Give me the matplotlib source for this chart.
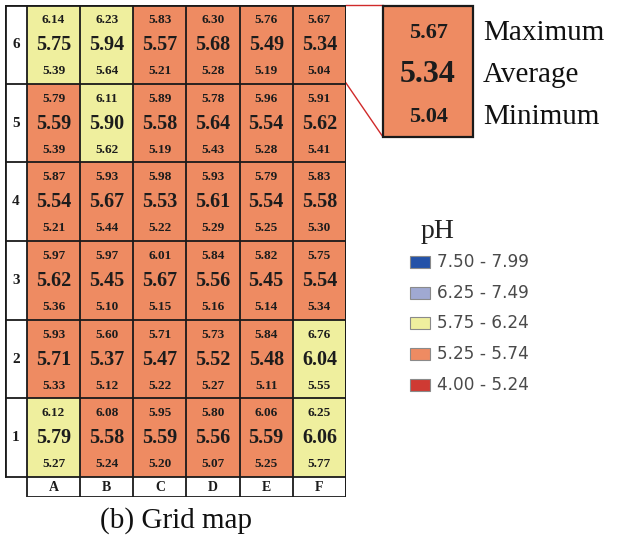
import numpy as np
import matplotlib
matplotlib.use("Agg")
import matplotlib.pyplot as plt
from matplotlib.colors import ListedColormap, BoundaryNorm
from matplotlib.patches import Rectangle

# grid values, rows listed from row 1 (bottom) to row 6 (top), columns A..F
cols = ["A", "B", "C", "D", "E", "F"]
rows = ["1", "2", "3", "4", "5", "6"]
ph_max = [
    [6.12, 6.08, 5.95, 5.80, 6.06, 6.25],
    [5.93, 5.60, 5.71, 5.73, 5.84, 6.76],
    [5.97, 5.97, 6.01, 5.84, 5.82, 5.75],
    [5.87, 5.93, 5.98, 5.93, 5.79, 5.83],
    [5.79, 6.11, 5.89, 5.78, 5.96, 5.91],
    [6.14, 6.23, 5.83, 6.30, 5.76, 5.67],
]
ph_avg = [
    [5.79, 5.58, 5.59, 5.56, 5.59, 6.06],
    [5.71, 5.37, 5.47, 5.52, 5.48, 6.04],
    [5.62, 5.45, 5.67, 5.56, 5.45, 5.54],
    [5.54, 5.67, 5.53, 5.61, 5.54, 5.58],
    [5.59, 5.90, 5.58, 5.64, 5.54, 5.62],
    [5.75, 5.94, 5.57, 5.68, 5.49, 5.34],
]
ph_min = [
    [5.27, 5.24, 5.20, 5.07, 5.25, 5.77],
    [5.33, 5.12, 5.22, 5.27, 5.11, 5.55],
    [5.36, 5.10, 5.15, 5.16, 5.14, 5.34],
    [5.21, 5.44, 5.22, 5.29, 5.25, 5.30],
    [5.39, 5.62, 5.19, 5.43, 5.28, 5.41],
    [5.39, 5.64, 5.21, 5.28, 5.19, 5.04],
]

# legend classes (low -> high)
bounds = [4.00, 5.25, 5.75, 6.25, 7.50, 8.00]
class_labels = ["4.00 - 5.24", "5.25 - 5.74", "5.75 - 6.24", "6.25 - 7.49", "7.50 - 7.99"]
class_colors = ["#CF3A33", "#EE8B62", "#EFEF9E", "#A0A9D2", "#2452A8"]
callout_labels = ["Maximum", "Average", "Minimum"]

W, H = 624, 541
cmap = ListedColormap(class_colors)
norm = BoundaryNorm(bounds, cmap.N)
serif = "Liberation Serif"

fig = plt.figure(figsize=(W / 100, H / 100), dpi=100)

# background axes in pixel coordinates
bg = fig.add_axes([0, 0, 1, 1])
bg.set_xlim(0, W)
bg.set_ylim(H, 0)
bg.axis("off")

# --- grid map ---
lab_w = 22 / 53.2
lab_h = 20 / 78.7
gx0, gx1, gy0, gy1 = 5, 346, 5, 497
ax = fig.add_axes([gx0 / W, 1 - gy1 / H, (gx1 - gx0) / W, (gy1 - gy0) / H])
ax.set_xlim(-lab_w, 6)
ax.set_ylim(-lab_h, 6)
ax.axis("off")

avg = np.array(ph_avg)
ax.pcolormesh(np.arange(7), np.arange(7), avg, cmap=cmap, norm=norm, zorder=1)

lc = "#1a1a1a"
ax.hlines(np.arange(0, 7), -lab_w, 6, color=lc, lw=1.3, zorder=3)
ax.vlines(np.arange(0, 7), -lab_h, 6, color=lc, lw=1.3, zorder=3)
ax.vlines(-lab_w, 0, 6, color=lc, lw=2.0, zorder=3)
ax.hlines(-lab_h, 0, 6, color=lc, lw=2.0, zorder=3)
ax.hlines(6, -lab_w, 6, color=lc, lw=2.0, zorder=3)
ax.vlines(6, -lab_h, 6, color=lc, lw=2.0, zorder=3)

tc = "#1c1c1c"
for r in range(6):
    ax.text(-lab_w / 2, r + 0.5, rows[r], ha="center", va="center",
            fontsize=11, fontweight="bold", family=serif, color=tc)
    for c in range(6):
        ax.text(c + 0.5, r + 0.81, f"{ph_max[r][c]:.2f}", ha="center", va="center",
                fontsize=9.5, fontweight="bold", family=serif, color=tc)
        ax.text(c + 0.5, r + 0.49, f"{ph_avg[r][c]:.2f}", ha="center", va="center",
                fontsize=14.5, fontweight="bold", family=serif, color=tc)
        ax.text(c + 0.5, r + 0.16, f"{ph_min[r][c]:.2f}", ha="center", va="center",
                fontsize=9.5, fontweight="bold", family=serif, color=tc)
for c in range(6):
    ax.text(c + 0.5, -lab_h / 2, cols[c], ha="center", va="center",
            fontsize=10, fontweight="bold", family=serif, color=tc)

bg.text(176, 521, "(b) Grid map", ha="center", va="center", fontsize=21,
        family=serif, color="#111111")

# --- callout of cell F6 ---
bx0, bx1, by0, by1 = 383, 473, 6, 137
bg.add_patch(Rectangle((bx0, by0), bx1 - bx0, by1 - by0,
                       facecolor=cmap(norm(ph_avg[5][5])), edgecolor=lc, lw=1.6, zorder=2))
bg.plot([346, bx0], [5, 5], color="#D02A2A", lw=1.0, zorder=1)
bg.plot([346, bx0], [83, by1], color="#D02A2A", lw=1.0, zorder=1)
bc = (bx0 + bx1) / 2
bg.text(bc, 33, f"{ph_max[5][5]:.2f}", ha="center", va="center", fontsize=16,
        fontweight="bold", family=serif, color=tc, zorder=3)
bg.text(bc, 75, f"{ph_avg[5][5]:.2f}", ha="center", va="center", fontsize=23,
        fontweight="bold", family=serif, color=tc, zorder=3)
bg.text(bc, 117, f"{ph_min[5][5]:.2f}", ha="center", va="center", fontsize=16,
        fontweight="bold", family=serif, color=tc, zorder=3)
for i, lab in enumerate(callout_labels):
    bg.text(483, 33 + 42 * i, lab, ha="left", va="center", fontsize=21,
            family=serif, color="#111111")

# --- legend ---
bg.text(421, 231, "pH", ha="left", va="center", fontsize=20, family=serif, color="#222222")
leg_y = [262, 293, 323, 354, 385]
for i, y in enumerate(leg_y):
    k = len(class_labels) - 1 - i
    bg.add_patch(Rectangle((410, y - 6), 20, 12, facecolor=class_colors[k],
                           edgecolor="#8a8a8a", lw=0.8))
    bg.text(437, y, class_labels[k], ha="left", va="center", fontsize=12.2,
            family="DejaVu Sans", color="#4a4a4a")

fig.savefig("out.png", dpi=100)
